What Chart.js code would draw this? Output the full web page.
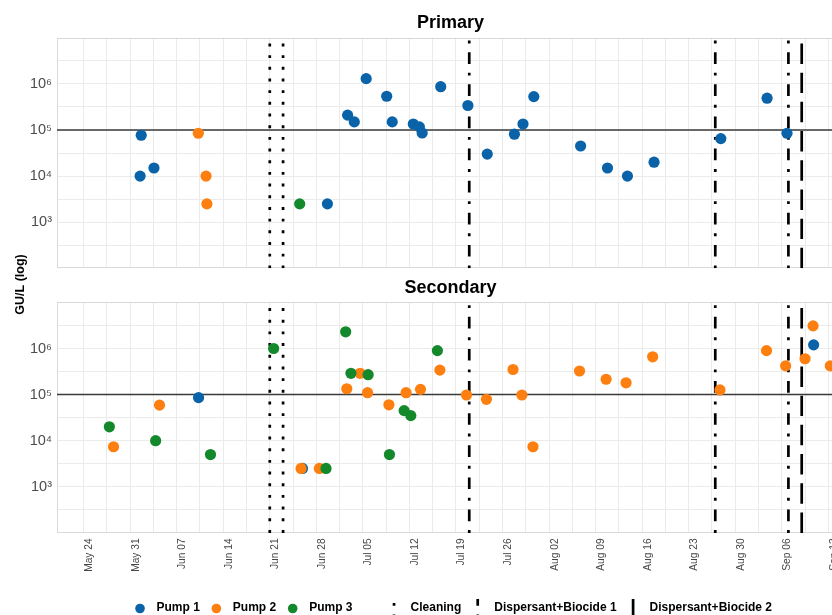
<!DOCTYPE html>
<html>
<head>
<meta charset="utf-8">
<title>GU/L by pump – Primary and Secondary</title>
<script src="https://cdn.jsdelivr.net/npm/chart.js@4.4.1/dist/chart.umd.min.js"></script>
<style>
  html, body { margin: 0; padding: 0; background: #fff; overflow: hidden; }
  #wrap { position: relative; width: 832px; height: 615px; overflow: hidden; background: #fff; }
  #wrap canvas { position: absolute; left: 0; top: 0; }
</style>
</head>
<body>
<div id="wrap">
  <canvas id="primary" width="901" height="615"></canvas>
  <canvas id="secondary" width="901" height="615"></canvas>
</div>
<script>
// ---------------- data ----------------
const axisStart = '2021-05-20';
const axisSpanDays = 118.3;

const tickDates = ['2021-05-24', '2021-05-31', '2021-06-07', '2021-06-14', '2021-06-21', '2021-06-28',
  '2021-07-05', '2021-07-12', '2021-07-19', '2021-07-26', '2021-08-02', '2021-08-09', '2021-08-16',
  '2021-08-23', '2021-08-30', '2021-09-06', '2021-09-13'];
const tickLabels = ['May 24', 'May 31', 'Jun 07', 'Jun 14', 'Jun 21', 'Jun 28', 'Jul 05', 'Jul 12',
  'Jul 19', 'Jul 26', 'Aug 02', 'Aug 09', 'Aug 16', 'Aug 23', 'Aug 30', 'Sep 06', 'Sep 13'];

const yMin = 1e2;
const yMax = 1e7;
const yTickExponents = [3, 4, 5, 6];
const threshold = 1e5;

const pumpNames = ['Pump 1', 'Pump 2', 'Pump 3'];

// Primary loop
const primaryPump1Dates = ['2021-06-01T16:00', '2021-06-01T12:00', '2021-06-03T14:00', '2021-06-29T16:00',
  '2021-07-02T17:00', '2021-07-03T17:00', '2021-07-05T12:00', '2021-07-08T14:00', '2021-07-09T10:00',
  '2021-07-12T14:00', '2021-07-13T12:00', '2021-07-13T22:00', '2021-07-16T17:00', '2021-07-20T19:00',
  '2021-07-23T17:00', '2021-07-27T19:00', '2021-07-29T02:00', '2021-07-30T17:00', '2021-08-06T18:00',
  '2021-08-10T19:00', '2021-08-13T19:00', '2021-08-17T19:00', '2021-08-27T20:00', '2021-09-03T19:00',
  '2021-09-06T19:00'];
const primaryPump1Values = [77000, 10000, 15000, 2500, 210000, 150000, 1300000, 540000, 150000,
  135000, 117000, 86000, 870000, 340000, 30000, 81000, 135000, 530000, 45000,
  15000, 10000, 20000, 65000, 490000, 85000];

const primaryPump2Dates = ['2021-06-10T06:00', '2021-06-11T10:00', '2021-06-11T13:00'];
const primaryPump2Values = [85000, 10000, 2500];

const primaryPump3Dates = ['2021-06-25T12:00'];
const primaryPump3Values = [2500];

// Secondary loop
const secondaryPump1Dates = ['2021-06-10T07:00', '2021-06-25T22:00', '2021-09-10T19:00'];
const secondaryPump1Values = [86000, 2500, 1200000];

const secondaryPump2Dates = ['2021-05-28T12:00', '2021-06-04T10:00', '2021-06-25T17:00', '2021-06-28T11:00',
  '2021-07-02T14:00', '2021-07-04T14:00', '2021-07-05T17:00', '2021-07-08T22:00', '2021-07-11T12:00',
  '2021-07-13T16:00', '2021-07-16T14:00', '2021-07-20T14:00', '2021-07-23T14:00', '2021-07-27T14:00',
  '2021-07-28T22:00', '2021-07-30T14:00', '2021-08-06T14:00', '2021-08-10T14:00', '2021-08-13T14:00',
  '2021-08-17T14:00', '2021-08-27T17:00', '2021-09-03T17:00', '2021-09-06T14:00', '2021-09-09T12:00',
  '2021-09-10T17:00', '2021-09-13T07:00'];
const secondaryPump2Values = [7400, 59000, 2500, 2500, 134000, 290000, 110000, 60000, 110000,
  130000, 340000, 98000, 79000, 350000, 98000, 7400, 325000, 215000, 180000,
  660000, 126000, 900000, 420000, 600000, 3100000, 420000];

const secondaryPump3Dates = ['2021-05-27T21:00', '2021-06-03T20:00', '2021-06-12T02:00', '2021-06-21T14:00',
  '2021-06-29T11:00', '2021-07-02T10:00', '2021-07-03T05:00', '2021-07-05T19:00', '2021-07-09T00:00',
  '2021-07-11T05:00', '2021-07-12T05:00', '2021-07-16T05:00'];
const secondaryPump3Values = [20000, 10000, 5000, 1000000, 2500, 2300000, 290000, 270000, 5000,
  45000, 35000, 900000];

// Treatment events
const cleaningDates = ['2021-06-21', '2021-06-23'];
const biocide1Dates = ['2021-07-21', '2021-08-27', '2021-09-07'];
const biocide2Dates = ['2021-09-09'];

// ---------------- styling ----------------
const FONT = '"Liberation Sans", Arial, Helvetica, sans-serif';
const pumpColors = ['#0a63a8', '#fd7f10', '#14892c'];
const CANVAS_W = 901;
const CANVAS_H = 615;
const PANEL_LEFT = 57;
const PANEL_RIGHT = 843.6;
const LINE_W = 2.7;
const U = 2.92; // dash unit
const eventGroups = [
  { name: 'Cleaning', dates: cleaningDates, dash: [U, 3 * U] },
  { name: 'Dispersant+Biocide 1', dates: biocide1Dates, dash: [U, 3 * U, 4 * U, 3 * U] },
  { name: 'Dispersant+Biocide 2', dates: biocide2Dates, dash: [7 * U, 3 * U] }
];

// ---------------- helpers ----------------
const DAY_MS = 86400000;
function toMs(s) {
  const [d, hm = '00:00'] = s.split('T');
  const [y, m, dd] = d.split('-').map(Number);
  const [h, mi] = hm.split(':').map(Number);
  return Date.UTC(y, m - 1, dd, h, mi);
}
const t0 = toMs(axisStart);
const dayOf = s => (toMs(s) - t0) / DAY_MS;

const majorDays = tickDates.map(dayOf);
const labelByDay = new Map(majorDays.map((d, i) => [d, tickLabels[i]]));
const minorDays = majorDays.slice(1).map((d, i) => (d + majorDays[i]) / 2);
const xTickValues = majorDays.concat(minorDays).sort((a, b) => a - b);

const yHalfExps = [];
for (let e = Math.log10(yMin) + 0.5; e < Math.log10(yMax); e += 0.5) yHalfExps.push(e);
const yTickValues = yHalfExps.map(e => Math.pow(10, e));
const SUP = '⁰¹²³⁴⁵⁶⁷⁸⁹';
function yLabel(v) {
  const e = Math.round(Math.log10(v) * 2) / 2;
  if (!Number.isInteger(e) || !yTickExponents.includes(e)) return '';
  return '10' + String(e).split('').map(c => SUP[+c]).join('');
}

function panelDatasets(series) {
  const sets = series.map((s, i) => ({
    label: pumpNames[i],
    data: s.dates.map((d, k) => ({ x: dayOf(d), y: s.values[k] })),
    backgroundColor: pumpColors[i],
    pointBackgroundColor: pumpColors[i],
    pointBorderWidth: 0,
    pointRadius: 5.6,
    pointHoverRadius: 5.6,
    showLine: false,
    order: 2 - i
  }));
  sets.push({
    label: 'threshold',
    data: [{ x: 0, y: threshold }, { x: axisSpanDays, y: threshold }],
    showLine: true, borderColor: '#3a3a3a', borderWidth: 1.5, pointRadius: 0, order: 10
  });
  eventGroups.forEach(g => g.dates.forEach(d => {
    sets.push({
      label: g.name,
      data: [{ x: dayOf(d), y: yMin }, { x: dayOf(d), y: yMax }],
      showLine: true, borderColor: '#000', borderWidth: LINE_W, borderDash: g.dash,
      borderCapStyle: 'butt', pointRadius: 0, order: 9
    });
  }));
  return sets;
}

// light frame around each panel
const panelFrame = {
  id: 'panelFrame',
  beforeDatasetsDraw(chart) {
    const { ctx, chartArea: a } = chart;
    ctx.save();
    ctx.strokeStyle = '#d9d9d9';
    ctx.lineWidth = 1;
    const l = Math.round(a.left) + 0.5, t = Math.round(a.top) + 0.5;
    const r = Math.round(a.right) + 0.5, b = Math.round(a.bottom) - 0.5;
    ctx.strokeRect(l, t, r - l, b - t);
    ctx.restore();
  }
};

// shared y-axis title between the two panels
const yAxisTitle = {
  id: 'yAxisTitle',
  afterDraw(chart) {
    const ctx = chart.ctx;
    ctx.save();
    ctx.translate(21, 284.5);
    ctx.rotate(-Math.PI / 2);
    ctx.font = 'bold 12.5px ' + FONT;
    ctx.fillStyle = '#000';
    ctx.textAlign = 'center';
    ctx.textBaseline = 'middle';
    ctx.fillText('GU/L (log)', 0, 0);
    ctx.restore();
  }
};

// legend: pump colours, then treatment line types
const legendEntries = pumpNames.map((n, i) => ({ text: n, color: pumpColors[i] }))
  .concat(eventGroups.map((g, i) => ({ text: g.name, dash: g.dash, newGroup: i === 0 })));
const keyLegend = {
  id: 'keyLegend',
  afterDraw(chart) {
    const ctx = chart.ctx;
    const MARK_TO_TEXT = 16.5, ITEM_GAP = 16.5, GROUP_GAP = 41.5;
    const CENTER = 456, TEXT_Y = 611, MARK_Y = 608.5;
    ctx.save();
    ctx.font = 'bold 12px ' + FONT;
    const widths = legendEntries.map(e => ctx.measureText(e.text).width);
    let total = 0;
    legendEntries.forEach((e, i) => {
      if (i > 0) total += e.newGroup ? GROUP_GAP : ITEM_GAP;
      total += MARK_TO_TEXT + widths[i];
    });
    let x = CENTER - total / 2;
    legendEntries.forEach((e, i) => {
      if (i > 0) x += e.newGroup ? GROUP_GAP : ITEM_GAP;
      if (e.color) {
        ctx.fillStyle = e.color;
        ctx.beginPath();
        ctx.arc(x, MARK_Y, 4.8, 0, Math.PI * 2);
        ctx.fill();
      } else {
        ctx.strokeStyle = '#000';
        ctx.lineWidth = LINE_W;
        ctx.lineCap = 'butt';
        ctx.setLineDash(e.dash);
        ctx.beginPath();
        ctx.moveTo(x, 617.5);
        ctx.lineTo(x, 599);
        ctx.stroke();
        ctx.setLineDash([]);
      }
      ctx.fillStyle = '#000';
      ctx.textAlign = 'left';
      ctx.textBaseline = 'alphabetic';
      ctx.fillText(e.text, x + MARK_TO_TEXT, TEXT_Y);
      x += MARK_TO_TEXT + widths[i];
    });
    ctx.restore();
  }
};

function panelOptions(titleText, padTop, showDates, xAxisHeight) {
  return {
    responsive: false,
    animation: false,
    devicePixelRatio: 1,
    events: [],
    layout: { padding: { top: padTop, left: 0, right: 0, bottom: 0 } },
    plugins: {
      legend: { display: false },
      tooltip: { enabled: false },
      title: {
        display: true, text: titleText, color: '#000',
        font: { family: FONT, size: 18, weight: 'bold' },
        padding: { top: 12.5, bottom: 3.7 }
      }
    },
    scales: {
      x: {
        type: 'linear', min: 0, max: axisSpanDays,
        afterBuildTicks: s => { s.ticks = xTickValues.map(v => ({ value: v })); },
        afterFit: s => { s.height = xAxisHeight; s.paddingLeft = 0; s.paddingRight = CANVAS_W - PANEL_RIGHT; },
        grid: { color: '#ebebeb', lineWidth: 1, drawTicks: false },
        border: { display: false },
        ticks: {
          display: showDates, autoSkip: false, maxRotation: 90, minRotation: 90,
          padding: 5.5, labelOffset: 5.7, color: '#474747',
          font: { family: FONT, size: 10.2 },
          callback: v => labelByDay.get(v) || ''
        }
      },
      y: {
        type: 'logarithmic', min: yMin, max: yMax,
        afterBuildTicks: s => { s.ticks = yTickValues.map(v => ({ value: v })); },
        afterFit: s => { s.width = PANEL_LEFT; s.paddingTop = 0; s.paddingBottom = 0; },
        grid: { color: '#ebebeb', lineWidth: 1, drawTicks: false },
        border: { display: false },
        ticks: {
          padding: 5, color: '#4d4d4d',
          font: { family: FONT, size: 14.5 },
          callback: v => yLabel(v)
        }
      }
    }
  };
}

new Chart(document.getElementById('primary'), {
  type: 'scatter',
  data: {
    datasets: panelDatasets([
      { dates: primaryPump1Dates, values: primaryPump1Values },
      { dates: primaryPump2Dates, values: primaryPump2Values },
      { dates: primaryPump3Dates, values: primaryPump3Values }
    ])
  },
  options: panelOptions('Primary', 0, false, CANVAS_H - 268.3),
  plugins: [panelFrame]
});

new Chart(document.getElementById('secondary'), {
  type: 'scatter',
  data: {
    datasets: panelDatasets([
      { dates: secondaryPump1Dates, values: secondaryPump1Values },
      { dates: secondaryPump2Dates, values: secondaryPump2Values },
      { dates: secondaryPump3Dates, values: secondaryPump3Values }
    ])
  },
  options: panelOptions('Secondary', 264.6, true, CANVAS_H - 532.9),
  plugins: [panelFrame, yAxisTitle, keyLegend]
});
</script>
</body>
</html>
